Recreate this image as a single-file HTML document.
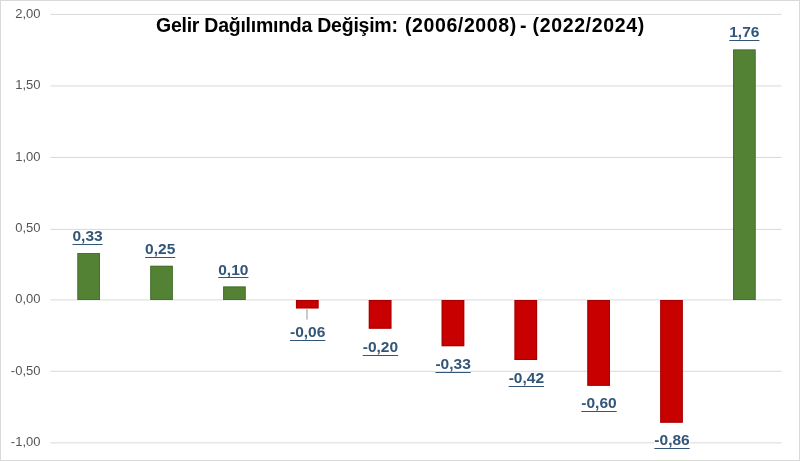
<!DOCTYPE html>
<html><head><meta charset="utf-8"><title>Gelir Dağılımında Değişim</title>
<style>
html,body{margin:0;padding:0;background:#fff;}
body{width:800px;height:461px;overflow:hidden;position:relative;font-family:"Liberation Sans",sans-serif;}
#wrap{position:absolute;left:0;top:0;width:800px;height:461px;will-change:transform;}
#frame{position:absolute;left:0;top:0;width:800px;height:461px;box-sizing:border-box;border:1px solid #D9D9D9;}
.yl{position:absolute;width:40px;left:0;text-align:right;font-size:13.0px;line-height:20px;color:#555555;}
.dl{position:absolute;font-weight:bold;font-size:15.5px;line-height:20px;color:#335577;white-space:nowrap;text-align:center;width:80px;}
.dl span{text-decoration:underline;text-decoration-thickness:1px;text-underline-offset:2.8px;text-decoration-skip-ink:none;}
.wb{position:absolute;background:#fff;}
.tt{position:absolute;font-weight:bold;font-size:19.5px;line-height:30px;color:#000;white-space:pre;}
</style></head><body>
<div id="frame"></div>
<div id="wrap">
<div class="yl" style="left:0.50px;top:4.25px;">2,00</div>
<div class="yl" style="left:0.50px;top:75.25px;">1,50</div>
<div class="yl" style="left:0.50px;top:147.25px;">1,00</div>
<div class="yl" style="left:0.50px;top:218.25px;">0,50</div>
<div class="yl" style="left:0.50px;top:289.25px;">0,00</div>
<div class="yl" style="left:0.50px;top:361.25px;">-0,50</div>
<div class="yl" style="left:0.50px;top:432.25px;">-1,00</div>
<svg id="plot" width="800" height="461" viewBox="0 0 800 461" style="position:absolute;left:0;top:0"><rect x="50.3" y="13.88" width="731.4" height="1" fill="#D9D9D9"/><rect x="50.3" y="85.43" width="731.4" height="1" fill="#D9D9D9"/><rect x="50.3" y="156.95" width="731.4" height="1" fill="#D9D9D9"/><rect x="50.3" y="228.89" width="731.4" height="1" fill="#D9D9D9"/><rect x="50.3" y="299.43" width="731.4" height="1" fill="#D9D9D9"/><rect x="50.3" y="370.80" width="731.4" height="1" fill="#D9D9D9"/><rect x="50.3" y="442.34" width="731.4" height="1" fill="#D9D9D9"/><rect x="77.40" y="253.00" width="22.6" height="47.00" fill="#548235"/><rect x="77.90" y="253.50" width="21.6" height="46.00" fill="none" stroke="#3F6A2A" stroke-width="1" stroke-opacity="0.7"/><rect x="150.25" y="265.80" width="22.6" height="34.20" fill="#548235"/><rect x="150.75" y="266.30" width="21.6" height="33.20" fill="none" stroke="#3F6A2A" stroke-width="1" stroke-opacity="0.7"/><rect x="223.10" y="286.50" width="22.6" height="13.50" fill="#548235"/><rect x="223.60" y="287.00" width="21.6" height="12.50" fill="none" stroke="#3F6A2A" stroke-width="1" stroke-opacity="0.7"/><rect x="295.95" y="300.00" width="22.6" height="8.40" fill="#C80000"/><rect x="296.45" y="300.50" width="21.6" height="7.40" fill="none" stroke="#960000" stroke-width="1" stroke-opacity="0.7"/><rect x="368.80" y="300.00" width="22.6" height="28.70" fill="#C80000"/><rect x="369.30" y="300.50" width="21.6" height="27.70" fill="none" stroke="#960000" stroke-width="1" stroke-opacity="0.7"/><rect x="441.65" y="300.00" width="22.6" height="46.20" fill="#C80000"/><rect x="442.15" y="300.50" width="21.6" height="45.20" fill="none" stroke="#960000" stroke-width="1" stroke-opacity="0.7"/><rect x="514.50" y="300.00" width="22.6" height="60.00" fill="#C80000"/><rect x="515.00" y="300.50" width="21.6" height="59.00" fill="none" stroke="#960000" stroke-width="1" stroke-opacity="0.7"/><rect x="587.35" y="300.00" width="22.6" height="85.80" fill="#C80000"/><rect x="587.85" y="300.50" width="21.6" height="84.80" fill="none" stroke="#960000" stroke-width="1" stroke-opacity="0.7"/><rect x="660.20" y="300.00" width="22.6" height="122.70" fill="#C80000"/><rect x="660.70" y="300.50" width="21.6" height="121.70" fill="none" stroke="#960000" stroke-width="1" stroke-opacity="0.7"/><rect x="733.05" y="49.50" width="22.6" height="250.50" fill="#548235"/><rect x="733.55" y="50.00" width="21.6" height="249.50" fill="none" stroke="#3F6A2A" stroke-width="1" stroke-opacity="0.7"/><rect x="306.3" y="308.4" width="1.4" height="11.2" fill="#B4B4B4"/></svg>
<div class="wb" style="left:434.9px;top:357.3px;width:36.4px;height:13.4px"></div>
<div class="wb" style="left:654.3px;top:433.4px;width:35.5px;height:13.0px"></div>
<div class="dl" style="left:47.55px;top:226.23px"><span style="text-underline-offset:3px">0,33</span></div>
<div class="dl" style="left:120.18px;top:238.53px"><span style="text-underline-offset:3px">0,25</span></div>
<div class="dl" style="left:193.35px;top:259.53px"><span style="text-underline-offset:2px">0,10</span></div>
<div class="dl" style="left:267.70px;top:321.53px"><span style="text-underline-offset:3px">-0,06</span></div>
<div class="dl" style="left:340.45px;top:336.93px"><span style="text-underline-offset:3px">-0,20</span></div>
<div class="dl" style="left:413.10px;top:354.33px"><span style="text-underline-offset:3px">-0,33</span></div>
<div class="dl" style="left:486.35px;top:368.23px"><span style="text-underline-offset:3px">-0,42</span></div>
<div class="dl" style="left:559.00px;top:393.33px"><span style="text-underline-offset:3px">-0,60</span></div>
<div class="dl" style="left:632.02px;top:430.03px"><span style="text-underline-offset:3px">-0,86</span></div>
<div class="dl" style="left:704.33px;top:22.23px"><span style="text-underline-offset:3px">1,76</span></div>
<div class="tt" style="left:156.00px;top:10.14px;letter-spacing:-0.25px">Gelir Dağılımında Değişim:</div>
<div class="tt" style="left:405.00px;top:10.14px;letter-spacing:0.6px">(2006/2008)</div>
<div class="tt" style="left:520.00px;top:10.14px;letter-spacing:0px">-</div>
<div class="tt" style="left:532.50px;top:10.14px;letter-spacing:0.65px">(2022/2024)</div>
</div>
</body></html>
